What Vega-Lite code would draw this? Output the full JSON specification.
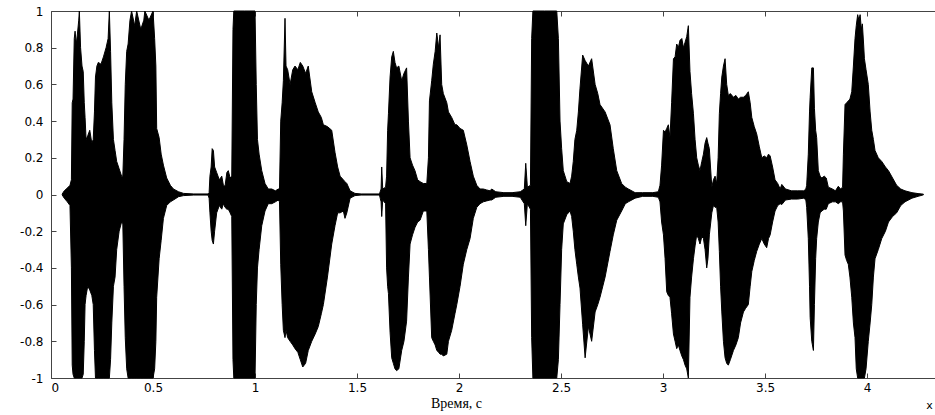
{
  "$schema": "https://vega.github.io/schema/vega-lite/v6.json",
  "width": 884,
  "height": 367,
  "autosize": {"type": "none"},
  "padding": {"left": 51, "top": 11, "right": 0, "bottom": 37},
  "background": "white",
  "config": {"view": {"stroke": null}},
  "resolve": {"axis": {"x": "independent"}},
  "layer": [
    {
      "data": {"values": [
        {"t":0.055,"hi":0.003,"lo":-0.003},{"t":0.065,"hi":0.02,"lo":-0.02},{"t":0.08,"hi":0.035,"lo":-0.04},{"t":0.093,"hi":0.05,"lo":-0.06},
        {"t":0.1,"hi":0.08,"lo":-0.4},{"t":0.104,"hi":0.5,"lo":-0.93},{"t":0.108,"hi":0.52,"lo":-0.98},{"t":0.114,"hi":0.85,"lo":-1},
        {"t":0.118,"hi":0.89,"lo":-1},{"t":0.124,"hi":0.82,"lo":-1},{"t":0.13,"hi":0.88,"lo":-1},{"t":0.136,"hi":0.95,"lo":-1},
        {"t":0.139,"hi":1,"lo":-1},{"t":0.145,"hi":0.8,"lo":-1},{"t":0.152,"hi":0.7,"lo":-1},{"t":0.158,"hi":0.67,"lo":-0.98},
        {"t":0.163,"hi":0.5,"lo":-0.8},{"t":0.167,"hi":0.42,"lo":-0.6},{"t":0.172,"hi":0.3,"lo":-0.55},{"t":0.18,"hi":0.32,"lo":-0.5},
        {"t":0.19,"hi":0.35,"lo":-0.52},{"t":0.2,"hi":0.28,"lo":-0.55},{"t":0.207,"hi":0.3,"lo":-0.6},{"t":0.213,"hi":0.45,"lo":-0.85},
        {"t":0.218,"hi":0.64,"lo":-1},{"t":0.225,"hi":0.7,"lo":-1},{"t":0.232,"hi":0.72,"lo":-1},{"t":0.245,"hi":0.71,"lo":-1},
        {"t":0.257,"hi":0.75,"lo":-1},{"t":0.27,"hi":0.8,"lo":-1},{"t":0.28,"hi":0.85,"lo":-1},{"t":0.286,"hi":1,"lo":-1},
        {"t":0.292,"hi":0.78,"lo":-0.9},{"t":0.298,"hi":0.5,"lo":-0.7},{"t":0.306,"hi":0.3,"lo":-0.5},{"t":0.314,"hi":0.24,"lo":-0.45},
        {"t":0.322,"hi":0.18,"lo":-0.3},{"t":0.334,"hi":0.14,"lo":-0.2},{"t":0.346,"hi":0.1,"lo":-0.15},{"t":0.352,"hi":0.1,"lo":-0.16},
        {"t":0.358,"hi":0.3,"lo":-0.5},{"t":0.364,"hi":0.6,"lo":-0.78},{"t":0.371,"hi":0.78,"lo":-0.95},{"t":0.378,"hi":0.82,"lo":-1},
        {"t":0.387,"hi":0.95,"lo":-1},{"t":0.395,"hi":1,"lo":-1},{"t":0.41,"hi":0.92,"lo":-1},{"t":0.42,"hi":1,"lo":-1},
        {"t":0.44,"hi":0.9,"lo":-1},{"t":0.455,"hi":0.95,"lo":-1},{"t":0.46,"hi":1,"lo":-1},{"t":0.48,"hi":0.95,"lo":-1},
        {"t":0.5,"hi":1,"lo":-1},{"t":0.508,"hi":0.85,"lo":-0.95},{"t":0.514,"hi":0.7,"lo":-0.8},{"t":0.518,"hi":0.36,"lo":-0.56},
        {"t":0.53,"hi":0.31,"lo":-0.35},{"t":0.54,"hi":0.22,"lo":-0.25},{"t":0.551,"hi":0.16,"lo":-0.13},{"t":0.567,"hi":0.09,"lo":-0.06},
        {"t":0.585,"hi":0.05,"lo":-0.04},{"t":0.6,"hi":0.03,"lo":-0.03},{"t":0.625,"hi":0.015,"lo":-0.012},{"t":0.65,"hi":0.006,"lo":-0.006},
        {"t":0.7,"hi":0.003,"lo":-0.003},{"t":0.77,"hi":0.003,"lo":-0.003},
        {"t":0.775,"hi":0.01,"lo":-0.02},{"t":0.779,"hi":0.1,"lo":-0.1},{"t":0.785,"hi":0.15,"lo":-0.2},{"t":0.79,"hi":0.25,"lo":-0.25},
        {"t":0.796,"hi":0.24,"lo":-0.27},{"t":0.802,"hi":0.15,"lo":-0.2},{"t":0.812,"hi":0.12,"lo":-0.1},{"t":0.825,"hi":0.08,"lo":-0.06},
        {"t":0.837,"hi":0.1,"lo":-0.08},{"t":0.845,"hi":0.05,"lo":-0.05},{"t":0.853,"hi":0.045,"lo":-0.07},{"t":0.862,"hi":0.12,"lo":-0.08},
        {"t":0.869,"hi":0.13,"lo":-0.08},{"t":0.878,"hi":0.09,"lo":-0.1},{"t":0.886,"hi":0.1,"lo":-0.12},{"t":0.892,"hi":0.9,"lo":-0.9},
        {"t":0.896,"hi":1,"lo":-1},{"t":0.95,"hi":1,"lo":-1},{"t":1.0,"hi":1,"lo":-1},{"t":1.006,"hi":0.6,"lo":-0.6},
        {"t":1.012,"hi":0.3,"lo":-0.4},{"t":1.02,"hi":0.22,"lo":-0.3},{"t":1.033,"hi":0.13,"lo":-0.17},{"t":1.049,"hi":0.06,"lo":-0.09},
        {"t":1.065,"hi":0.03,"lo":-0.05},{"t":1.082,"hi":0.03,"lo":-0.05},{"t":1.1,"hi":0.02,"lo":-0.04},{"t":1.114,"hi":0.03,"lo":-0.03},
        {"t":1.12,"hi":0.03,"lo":-0.04},{"t":1.126,"hi":0.4,"lo":-0.38},{"t":1.133,"hi":0.5,"lo":-0.6},{"t":1.139,"hi":0.62,"lo":-0.74},
        {"t":1.147,"hi":0.96,"lo":-0.78},{"t":1.152,"hi":0.7,"lo":-0.74},{"t":1.16,"hi":0.68,"lo":-0.78},{"t":1.172,"hi":0.6,"lo":-0.8},
        {"t":1.185,"hi":0.68,"lo":-0.82},{"t":1.196,"hi":0.7,"lo":-0.84},{"t":1.21,"hi":0.68,"lo":-0.86},{"t":1.222,"hi":0.72,"lo":-0.9},
        {"t":1.234,"hi":0.7,"lo":-0.94},{"t":1.248,"hi":0.66,"lo":-0.92},{"t":1.261,"hi":0.7,"lo":-0.85},{"t":1.278,"hi":0.56,"lo":-0.8},
        {"t":1.295,"hi":0.5,"lo":-0.76},{"t":1.31,"hi":0.45,"lo":-0.72},{"t":1.325,"hi":0.42,"lo":-0.65},{"t":1.335,"hi":0.38,"lo":-0.6},
        {"t":1.355,"hi":0.37,"lo":-0.45},{"t":1.376,"hi":0.35,"lo":-0.27},{"t":1.392,"hi":0.23,"lo":-0.17},{"t":1.405,"hi":0.15,"lo":-0.1},
        {"t":1.417,"hi":0.1,"lo":-0.1},{"t":1.433,"hi":0.08,"lo":-0.09},{"t":1.441,"hi":0.07,"lo":-0.13},
        {"t":1.45,"hi":0.06,"lo":-0.1},{"t":1.466,"hi":0.02,"lo":-0.02},{"t":1.49,"hi":0.006,"lo":-0.006},{"t":1.52,"hi":0.003,"lo":-0.003},
        {"t":1.61,"hi":0.003,"lo":-0.003},{"t":1.618,"hi":0.03,"lo":-0.04},{"t":1.621,"hi":0.15,"lo":-0.12},{"t":1.626,"hi":0.03,"lo":-0.03},
        {"t":1.64,"hi":0.04,"lo":-0.05},{"t":1.645,"hi":0.1,"lo":-0.4},{"t":1.65,"hi":0.35,"lo":-0.5},{"t":1.654,"hi":0.44,"lo":-0.54},
        {"t":1.662,"hi":0.64,"lo":-0.75},{"t":1.67,"hi":0.75,"lo":-0.89},{"t":1.678,"hi":0.78,"lo":-0.92},{"t":1.686,"hi":0.72,"lo":-0.95},
        {"t":1.694,"hi":0.69,"lo":-0.96},{"t":1.705,"hi":0.7,"lo":-0.95},{"t":1.719,"hi":0.62,"lo":-0.85},{"t":1.73,"hi":0.66,"lo":-0.8},
        {"t":1.743,"hi":0.69,"lo":-0.69},{"t":1.752,"hi":0.4,"lo":-0.45},{"t":1.76,"hi":0.2,"lo":-0.27},{"t":1.772,"hi":0.16,"lo":-0.22},
        {"t":1.784,"hi":0.13,"lo":-0.18},{"t":1.797,"hi":0.08,"lo":-0.15},{"t":1.809,"hi":0.07,"lo":-0.14},{"t":1.825,"hi":0.06,"lo":-0.09},
        {"t":1.842,"hi":0.06,"lo":-0.09},{"t":1.85,"hi":0.2,"lo":-0.3},{"t":1.855,"hi":0.51,"lo":-0.45},{"t":1.866,"hi":0.62,"lo":-0.78},
        {"t":1.874,"hi":0.71,"lo":-0.8},{"t":1.883,"hi":0.78,"lo":-0.82},{"t":1.891,"hi":0.88,"lo":-0.85},{"t":1.9,"hi":0.8,"lo":-0.86},
        {"t":1.907,"hi":0.87,"lo":-0.87},{"t":1.915,"hi":0.6,"lo":-0.87},{"t":1.923,"hi":0.55,"lo":-0.88},{"t":1.94,"hi":0.5,"lo":-0.87},
        {"t":1.948,"hi":0.45,"lo":-0.8},{"t":1.964,"hi":0.42,"lo":-0.74},{"t":1.98,"hi":0.38,"lo":-0.65},{"t":1.989,"hi":0.38,"lo":-0.6},
        {"t":2.005,"hi":0.36,"lo":-0.5},{"t":2.021,"hi":0.35,"lo":-0.38},{"t":2.038,"hi":0.27,"lo":-0.3},{"t":2.054,"hi":0.18,"lo":-0.24},
        {"t":2.07,"hi":0.1,"lo":-0.13},{"t":2.087,"hi":0.05,"lo":-0.07},{"t":2.103,"hi":0.03,"lo":-0.05},{"t":2.119,"hi":0.03,"lo":-0.04},
        {"t":2.135,"hi":0.025,"lo":-0.035},{"t":2.152,"hi":0.02,"lo":-0.03},
        {"t":2.16,"hi":0.03,"lo":-0.03},{"t":2.18,"hi":0.015,"lo":-0.015},{"t":2.22,"hi":0.01,"lo":-0.01},{"t":2.26,"hi":0.01,"lo":-0.01},
        {"t":2.3,"hi":0.015,"lo":-0.015},{"t":2.32,"hi":0.03,"lo":-0.05},{"t":2.327,"hi":0.17,"lo":-0.17},{"t":2.335,"hi":0.04,"lo":-0.05},
        {"t":2.35,"hi":0.05,"lo":-0.08},{"t":2.356,"hi":0.85,"lo":-0.78},{"t":2.362,"hi":1,"lo":-1},{"t":2.42,"hi":1,"lo":-1},
        {"t":2.479,"hi":1,"lo":-1},{"t":2.487,"hi":0.85,"lo":-0.9},{"t":2.495,"hi":0.4,"lo":-0.6},{"t":2.503,"hi":0.25,"lo":-0.3},
        {"t":2.511,"hi":0.13,"lo":-0.16},{"t":2.528,"hi":0.07,"lo":-0.11},{"t":2.544,"hi":0.06,"lo":-0.09},{"t":2.552,"hi":0.1,"lo":-0.12},
        {"t":2.56,"hi":0.18,"lo":-0.2},{"t":2.568,"hi":0.3,"lo":-0.3},{"t":2.577,"hi":0.35,"lo":-0.38},{"t":2.585,"hi":0.45,"lo":-0.45},
        {"t":2.593,"hi":0.58,"lo":-0.51},{"t":2.606,"hi":0.76,"lo":-0.71},{"t":2.618,"hi":0.73,"lo":-0.89},{"t":2.634,"hi":0.7,"lo":-0.72},
        {"t":2.65,"hi":0.74,"lo":-0.8},{"t":2.667,"hi":0.6,"lo":-0.64},{"t":2.68,"hi":0.55,"lo":-0.6},{"t":2.691,"hi":0.49,"lo":-0.56},
        {"t":2.716,"hi":0.45,"lo":-0.45},{"t":2.74,"hi":0.38,"lo":-0.31},{"t":2.756,"hi":0.25,"lo":-0.22},{"t":2.773,"hi":0.13,"lo":-0.14},
        {"t":2.797,"hi":0.06,"lo":-0.09},{"t":2.815,"hi":0.04,"lo":-0.05},{"t":2.83,"hi":0.03,"lo":-0.04},{"t":2.863,"hi":0.01,"lo":-0.02},
        {"t":2.9,"hi":0.01,"lo":-0.01},{"t":2.95,"hi":0.01,"lo":-0.01},{"t":2.977,"hi":0.015,"lo":-0.015},{"t":2.985,"hi":0.05,"lo":-0.04},
        {"t":2.993,"hi":0.16,"lo":-0.15},{"t":3.002,"hi":0.35,"lo":-0.22},{"t":3.01,"hi":0.34,"lo":-0.35},{"t":3.018,"hi":0.36,"lo":-0.53},
        {"t":3.026,"hi":0.38,"lo":-0.55},{"t":3.034,"hi":0.31,"lo":-0.56},{"t":3.042,"hi":0.5,"lo":-0.65},{"t":3.051,"hi":0.74,"lo":-0.76},
        {"t":3.059,"hi":0.75,"lo":-0.8},{"t":3.067,"hi":0.82,"lo":-0.84},{"t":3.075,"hi":0.8,"lo":-0.82},{"t":3.083,"hi":0.84,"lo":-0.85},
        {"t":3.092,"hi":0.85,"lo":-0.88},{"t":3.1,"hi":0.8,"lo":-0.9},{"t":3.108,"hi":0.83,"lo":-0.93},{"t":3.116,"hi":0.86,"lo":-0.95},
        {"t":3.124,"hi":0.92,"lo":-1},{"t":3.132,"hi":0.67,"lo":-0.56},{"t":3.14,"hi":0.55,"lo":-0.45},{"t":3.149,"hi":0.44,"lo":-0.35},
        {"t":3.157,"hi":0.3,"lo":-0.28},{"t":3.165,"hi":0.2,"lo":-0.22},{"t":3.173,"hi":0.16,"lo":-0.24},{"t":3.181,"hi":0.13,"lo":-0.27},
        {"t":3.19,"hi":0.18,"lo":-0.23},{"t":3.198,"hi":0.22,"lo":-0.24},{"t":3.206,"hi":0.28,"lo":-0.3},{"t":3.214,"hi":0.31,"lo":-0.4},
        {"t":3.22,"hi":0.28,"lo":-0.35},{"t":3.227,"hi":0.25,"lo":-0.22},{"t":3.239,"hi":0.04,"lo":-0.1},{"t":3.247,"hi":0.08,"lo":-0.06},
        {"t":3.255,"hi":0.1,"lo":-0.07},{"t":3.263,"hi":0.06,"lo":-0.07},{"t":3.27,"hi":0.2,"lo":-0.15},{"t":3.276,"hi":0.44,"lo":-0.31},
        {"t":3.282,"hi":0.55,"lo":-0.5},{"t":3.288,"hi":0.64,"lo":-0.64},{"t":3.296,"hi":0.7,"lo":-0.8},{"t":3.304,"hi":0.74,"lo":-0.89},
        {"t":3.312,"hi":0.6,"lo":-0.92},{"t":3.32,"hi":0.54,"lo":-0.93},{"t":3.33,"hi":0.55,"lo":-0.9},{"t":3.345,"hi":0.53,"lo":-0.85},
        {"t":3.357,"hi":0.54,"lo":-0.82},{"t":3.369,"hi":0.52,"lo":-0.78},{"t":3.38,"hi":0.53,"lo":-0.7},{"t":3.394,"hi":0.53,"lo":-0.64},
        {"t":3.405,"hi":0.54,"lo":-0.62},{"t":3.418,"hi":0.56,"lo":-0.6},{"t":3.427,"hi":0.5,"lo":-0.5},{"t":3.435,"hi":0.42,"lo":-0.42},
        {"t":3.447,"hi":0.37,"lo":-0.36},{"t":3.459,"hi":0.33,"lo":-0.31},{"t":3.472,"hi":0.26,"lo":-0.27},{"t":3.484,"hi":0.2,"lo":-0.24},
        {"t":3.496,"hi":0.21,"lo":-0.27},{"t":3.508,"hi":0.2,"lo":-0.29},{"t":3.517,"hi":0.22,"lo":-0.24},{"t":3.525,"hi":0.21,"lo":-0.22},
        {"t":3.537,"hi":0.15,"lo":-0.15},{"t":3.549,"hi":0.08,"lo":-0.09},{"t":3.562,"hi":0.06,"lo":-0.06},{"t":3.574,"hi":0.03,"lo":-0.05},
        {"t":3.582,"hi":0.055,"lo":-0.055},{"t":3.6,"hi":0.03,"lo":-0.03},{"t":3.63,"hi":0.02,"lo":-0.025},{"t":3.66,"hi":0.02,"lo":-0.025},
        {"t":3.69,"hi":0.02,"lo":-0.02},{"t":3.7,"hi":0.03,"lo":-0.03},{"t":3.704,"hi":0.05,"lo":-0.07},{"t":3.712,"hi":0.22,"lo":-0.24},
        {"t":3.718,"hi":0.45,"lo":-0.5},{"t":3.721,"hi":0.53,"lo":-0.67},{"t":3.729,"hi":0.69,"lo":-0.8},{"t":3.737,"hi":0.69,"lo":-0.85},
        {"t":3.742,"hi":0.47,"lo":-0.6},{"t":3.748,"hi":0.35,"lo":-0.35},{"t":3.753,"hi":0.31,"lo":-0.24},{"t":3.761,"hi":0.13,"lo":-0.15},
        {"t":3.77,"hi":0.1,"lo":-0.1},{"t":3.778,"hi":0.09,"lo":-0.09},{"t":3.79,"hi":0.1,"lo":-0.08},{"t":3.8,"hi":0.09,"lo":-0.08},
        {"t":3.81,"hi":0.04,"lo":-0.05},{"t":3.83,"hi":0.03,"lo":-0.04},{"t":3.845,"hi":0.02,"lo":-0.04},{"t":3.859,"hi":0.045,"lo":-0.05},
        {"t":3.87,"hi":0.03,"lo":-0.04},{"t":3.88,"hi":0.04,"lo":-0.04},{"t":3.884,"hi":0.22,"lo":-0.09},{"t":3.892,"hi":0.49,"lo":-0.33},
        {"t":3.9,"hi":0.5,"lo":-0.36},{"t":3.908,"hi":0.51,"lo":-0.38},{"t":3.916,"hi":0.52,"lo":-0.45},{"t":3.925,"hi":0.56,"lo":-0.56},
        {"t":3.933,"hi":0.7,"lo":-0.7},{"t":3.941,"hi":0.85,"lo":-0.78},{"t":3.947,"hi":0.92,"lo":-0.95},{"t":3.954,"hi":0.98,"lo":-1},
        {"t":3.96,"hi":0.95,"lo":-1},{"t":3.966,"hi":0.98,"lo":-1},{"t":3.972,"hi":0.9,"lo":-1},{"t":3.977,"hi":0.93,"lo":-1},
        {"t":3.983,"hi":0.82,"lo":-1},{"t":3.987,"hi":0.74,"lo":-1},{"t":3.995,"hi":0.68,"lo":-0.95},{"t":4.006,"hi":0.6,"lo":-0.8},
        {"t":4.015,"hi":0.45,"lo":-0.7},{"t":4.023,"hi":0.35,"lo":-0.6},{"t":4.031,"hi":0.3,"lo":-0.45},{"t":4.039,"hi":0.24,"lo":-0.35},
        {"t":4.055,"hi":0.2,"lo":-0.3},{"t":4.072,"hi":0.18,"lo":-0.24},{"t":4.09,"hi":0.15,"lo":-0.2},{"t":4.105,"hi":0.13,"lo":-0.15},
        {"t":4.125,"hi":0.09,"lo":-0.12},{"t":4.145,"hi":0.05,"lo":-0.1},{"t":4.165,"hi":0.03,"lo":-0.06},{"t":4.186,"hi":0.02,"lo":-0.04},
        {"t":4.22,"hi":0.01,"lo":-0.02},{"t":4.25,"hi":0.005,"lo":-0.01},{"t":4.276,"hi":0.002,"lo":-0.002}
      ]},
      "mark": {"type": "area", "color": "black", "stroke": "black", "strokeWidth": 1, "interpolate": "linear"},
      "encoding": {
        "x": {"field": "t", "type": "quantitative",
          "scale": {"domain": [0, 4.333], "nice": false, "zero": false},
          "axis": {"orient": "bottom", "values": [0, 0.5, 1, 1.5, 2, 2.5, 3, 3.5, 4],
            "labelExpr": "format(datum.value, '~g')",
            "grid": false, "tickSize": -5, "tickColor": "#444", "domainColor": "#444", "domainWidth": 1,
            "labelPadding": 9, "labelFont": "DejaVu Sans", "labelFontSize": 12, "labelColor": "black",
            "title": "Время, с", "titleFont": "Liberation Serif", "titleFontSize": 14, "titleFontWeight": "normal",
            "titleColor": "black", "titleX": 405, "titleY": 29, "titleBaseline": "alphabetic", "titleAlign": "center"}},
        "y": {"field": "hi", "type": "quantitative",
          "scale": {"domain": [-1, 1], "nice": false, "zero": false},
          "axis": {"values": [-1, -0.8, -0.6, -0.4, -0.2, 0, 0.2, 0.4, 0.6, 0.8, 1],
            "labelExpr": "datum.value < 0 ? '-' + format(-datum.value, '~g') : format(datum.value, '~g')",
            "grid": false, "tickSize": -5, "tickColor": "#444", "domainColor": "#444", "domainWidth": 1,
            "labelPadding": 13, "labelFont": "DejaVu Sans", "labelFontSize": 12, "labelColor": "black", "title": null}},
        "y2": {"field": "lo"}
      }
    },
    {
      "data": {"values": [{"t": 4.306, "v": -1.155, "label": "x"}]},
      "mark": {"type": "text", "font": "DejaVu Sans", "fontSize": 11, "color": "black", "align": "center", "baseline": "middle"},
      "encoding": {
        "x": {"field": "t", "type": "quantitative",
          "scale": {"domain": [0, 4.333], "nice": false, "zero": false},
          "axis": {"orient": "top", "values": [0, 0.5, 1, 1.5, 2, 2.5, 3, 3.5, 4], "labels": false,
            "grid": false, "tickSize": -5, "tickColor": "#444", "domainColor": "#444", "domainWidth": 1, "title": null}},
        "y": {"field": "v", "type": "quantitative",
          "scale": {"domain": [-1, 1], "nice": false, "zero": false},
          "axis": {"values": [-1, -0.8, -0.6, -0.4, -0.2, 0, 0.2, 0.4, 0.6, 0.8, 1],
            "labelExpr": "datum.value < 0 ? '-' + format(-datum.value, '~g') : format(datum.value, '~g')",
            "grid": false, "tickSize": -5, "tickColor": "#444", "domainColor": "#444", "domainWidth": 1,
            "labelPadding": 13, "labelFont": "DejaVu Sans", "labelFontSize": 12, "labelColor": "black", "title": null}},
        "text": {"field": "label"}
      }
    }
  ]
}
